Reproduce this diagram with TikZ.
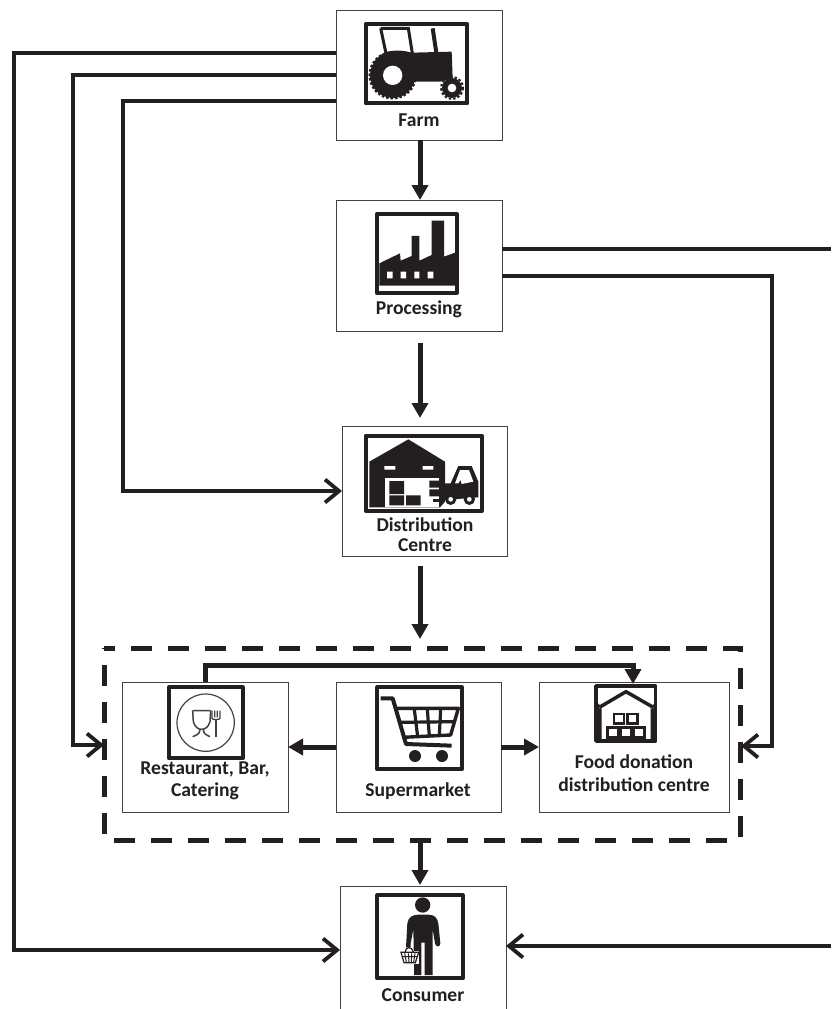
\documentclass[tikz,border=0pt]{standalone}
\usepackage{fontspec}
\setmainfont[Ligatures=Common]{Carlito}
\usetikzlibrary{arrows.meta,calc}
\definecolor{ink}{HTML}{231F20}
\tikzset{
  x=1pt,y=-1pt,
  box/.style={draw=ink!85,line width=1pt,fill=white,rectangle,inner sep=0pt,outer sep=0pt,anchor=north west},
  lbl/.style={font=\fontsize{19.6}{22.5}\selectfont\bfseries,text=ink,align=center,inner sep=0pt},
  frm/.style={draw=ink,line width=4pt,line join=round},
  heavy/.style={draw=ink,line width=4pt,line join=miter},
  solidtip/.style={draw=ink,line width=5pt,line join=miter,-{Triangle[length=15pt,width=16pt]}},
  opentip/.style={heavy,-{Straight Barb[length=14pt,width=23pt,line width=3.8pt]}},
}
\begin{document}
\begin{tikzpicture}
\useasboundingbox (0,0) rectangle (831,1009);
\fill[white] (0,0) rectangle (831,1009);

% boxes
\node[box,minimum width=166pt,minimum height=130pt] (farm) at (336,10) {};
\node[box,minimum width=166pt,minimum height=131pt] (proc) at (336,200) {};
\node[box,minimum width=165pt,minimum height=130pt] (dist) at (342,426) {};
\node[box,minimum width=166pt,minimum height=130pt] (rest) at (122,682) {};
\node[box,minimum width=165pt,minimum height=130pt] (super) at (336,682) {};
\node[box,minimum width=190pt,minimum height=130pt] (food) at (539,682) {};
\draw[draw=ink!85,line width=1pt] (340,1009) -- (340,886) -- (506,886) -- (506,1009);
\coordinate (consN) at (423,886);
\coordinate (consW) at (340,950);
\coordinate (consE) at (506,946);
% dashed group
\node[rectangle,inner sep=0pt,outer sep=0pt,anchor=north west,minimum width=636pt,minimum height=192pt] (group) at (104,648) {};
\draw[ink,line width=5pt,dash pattern=on 21pt off 16pt,dash phase=10pt] (group.north west) -- (group.north east) -- (group.south east) -- (group.south west) -- cycle;

% labels
\node[lbl] (lfarm) at (419,120) {Farm};
\node[lbl] (lproc) at (419,309) {Processing};
\node[lbl] (ldist) at (425,535) {Distribution\\[-2.5pt]Centre};
\node[lbl] (lrest) at (205,781) {Restaurant, Bar,\\Catering};
\node[lbl] (lsuper) at (418,791) {Supermarket};
\node[lbl] (lfood) at (634,773) {Food donation\\distribution centre};
\node[lbl] (lcons) at (423,995) {Consumer};

% connectors
\coordinate (e1) at (14,53);
\coordinate (e2) at (73,75);
\coordinate (e3) at (123,101);
\draw[opentip] (farm.west |- e1) -- (e1) |- (consW);
\draw[opentip] (farm.west |- e2) -- (e2) |- (104,745);
\draw[opentip] (farm.west |- e3) -- (e3) |- (342,491);
\draw[solidtip] (420,140) -- (420,200);
\draw[solidtip] (420,343) -- (420,418);
\draw[solidtip] (420,566) -- (420,639);
\draw[solidtip] (420,842) -- (420,885);
\coordinate (r1) at (831,249);
\coordinate (r2) at (772,276);
\draw[heavy] (proc.east |- r1) -- (r1);
\draw[opentip] (proc.east |- r2) -- (r2) |- (741,746);
\coordinate (r3) at (831,946);
\draw[opentip] (r3) -- (consE);
\draw[solidtip] (super.west |- 0,747) -- (rest.east |- 0,747);
\draw[solidtip] (super.east |- 0,747) -- (food.west |- 0,747);
\coordinate (t1) at (205,665);
\coordinate (t2) at (633,665);
\draw[solidtip] (205,682) -- (t1) -- (t2) -- (633,684);

% tractor icon
\begin{scope}[shift={(330,0)},scale=1/3]
\draw[frm] (107,72) rectangle (412,310);
\draw[ink,line width=3pt] (152,85) -- (235,85) -- (247,160);
\draw[ink,line width=3pt] (152,85) -- (168,160);
\draw[ink,line width=4pt] (308,85) -- (320,165);
\fill[ink] (130,190) .. controls (150,150) and (200,145) .. (245,158) -- (365,155) -- (368,235) -- (330,245) -- (250,245) -- (200,160) -- cycle;
\fill[ink] (188,226) circle (68);
\draw[ink,line width=2pt,dash pattern=on 2.5pt off 2pt] (188,226) circle (69.5);
\fill[white] (188,226) circle (29);
\fill[ink] (366,264) circle (30);
\draw[ink,line width=2pt,dash pattern=on 2.5pt off 2pt] (366,264) circle (33);
\fill[white] (366,264) circle (13);
\end{scope}

% factory icon
\begin{scope}[shift={(330,0)},scale=1/3]
\draw[frm] (140,643) rectangle (381,878);
\fill[ink] (148,790) -- (210,760) -- (212,782) -- (245,768) -- (245,708) -- (268,708) -- (268,782) -- (305,765) -- (305,662) -- (342,662) -- (342,770) -- (375,758) -- (375,857) -- (148,857) -- cycle;
\fill[white] (171,815) rectangle (188,835) (212,815) rectangle (228,835) (253,815) rectangle (268,835) (293,815) rectangle (310,835);
\end{scope}

% warehouse icon
\begin{scope}[shift={(330,420)},scale=1/3]
\draw[frm] (107,47) rectangle (455,273);
\fill[ink] (118,125) -- (235,58) -- (345,125) -- (345,245) -- (330,262) -- (118,262) -- cycle;
\fill[white] (165,175) rectangle (328,262);
\fill[white] (163,138) rectangle (196,149) (278,138) rectangle (310,149);
\fill[ink] (178,183) rectangle (222,222) (178,226) rectangle (222,256) (228,226) rectangle (272,256) (298,182) rectangle (328,203) (298,208) rectangle (328,229);
\fill[ink] (330,125) rectangle (345,245);
\fill[ink] (345,190) -- (362,190) -- (385,138) -- (425,138) -- (445,185) -- (445,232) -- (345,240) -- cycle;
\fill[white] (375,190) -- (390,150) -- (417,150) -- (430,185) -- (395,192) -- (392,180) -- (385,190) -- cycle;
\fill[ink] (310,238) rectangle (345,245);
\fill[ink] (362,238) circle (17) (418,238) circle (17);
\fill[white] (362,238) circle (7) (418,238) circle (7);
\end{scope}

% plate icon
\begin{scope}[shift={(60,640)},scale=1/3]
\draw[frm] (327,142) rectangle (548,355);
\draw[ink!85,line width=1.2pt] (437,248) circle (86);
\draw[ink!85,line width=1.5pt] (398,212) -- (452,212) (398,212) -- (400,245) .. controls (405,262) and (415,268) .. (425,268) .. controls (435,268) and (445,262) .. (450,245) -- (452,212);
\draw[ink!85,line width=1.5pt] (420,268) .. controls (420,282) and (410,285) .. (398,290) (430,268) .. controls (430,282) and (440,285) .. (450,290);
\draw[ink!85,line width=1.3pt] (456,212) -- (456,235) .. controls (456,240) and (480,240) .. (480,235) -- (480,212) (464,212) -- (464,232) (472,212) -- (472,232);
\draw[ink!85,line width=1.8pt] (468,238) -- (468,290);
\end{scope}

% cart icon
\begin{scope}[shift={(370,680)},scale=1/3]
\draw[frm] (22,22) rectangle (275,268);
\draw[ink,line width=4pt,line join=round] (32,55) -- (68,55) -- (108,192) -- (245,197);
\draw[ink,line width=3.4pt,line join=round] (78,85) -- (265,85) -- (242,165) -- (98,172);
\draw[ink,line width=3.2pt] (88,127) -- (255,125);
\draw[ink,line width=3.2pt] (133,88) -- (143,170) (172,88) -- (178,168) (212,88) -- (208,166);
\fill[ink] (135,228) circle (18) (216,228) circle (18);
\end{scope}

% donation icon
\begin{scope}[shift={(590,680)},scale=1/3]
\draw[draw=ink,line width=3.5pt,line join=round] (18,18) rectangle (197,183);
\fill[ink] (18,85) -- (35,85) -- (35,183) -- (18,183) -- cycle (182,85) -- (197,85) -- (197,183) -- (182,183) -- cycle;
\draw[ink,line width=3.5pt,line join=bevel] (28,82) -- (108,35) -- (190,82);
\fill[ink] (18,70) -- (28,72) -- (28,90) -- (18,90) -- cycle (190,72) -- (197,70) -- (197,90) -- (190,90) -- cycle;
\draw[ink,line width=2.6pt] (72,102) rectangle (102,130) (112,102) rectangle (143,130) (52,142) rectangle (84,172) (92,142) rectangle (124,172) (132,142) rectangle (164,172);
\end{scope}

% shopper icon
\begin{scope}[shift={(320,840)},scale=1/3]
\draw[frm] (172,166) rectangle (428,415);
\fill[ink] (308,195) circle (23);
\fill[ink] (262,250) .. controls (265,230) and (280,224) .. (295,224) -- (325,224) .. controls (345,224) and (352,235) .. (355,250) -- (361,310) .. controls (361,322) and (347,322) .. (345,310) -- (338,268) -- (338,405) -- (314,405) -- (314,308) -- (304,308) -- (304,405) -- (282,405) -- (282,370) -- (280,268) -- (272,310) -- (272,322) -- (258,322) -- cycle;
\fill[white] (238,332) rectangle (298,372);
\draw[ink,line width=1.2pt] (243,337) -- (296,337) -- (286,368) -- (252,368) -- cycle;
\draw[ink,line width=1.2pt] (255,337) .. controls (258,318) and (275,318) .. (280,337);
\draw[ink,line width=1pt] (254,340) -- (259,366) (265,340) -- (267,366) (275,340) -- (274,366) (285,340) -- (281,366) (247,350) -- (292,350);
\end{scope}
\end{tikzpicture}
\end{document}
